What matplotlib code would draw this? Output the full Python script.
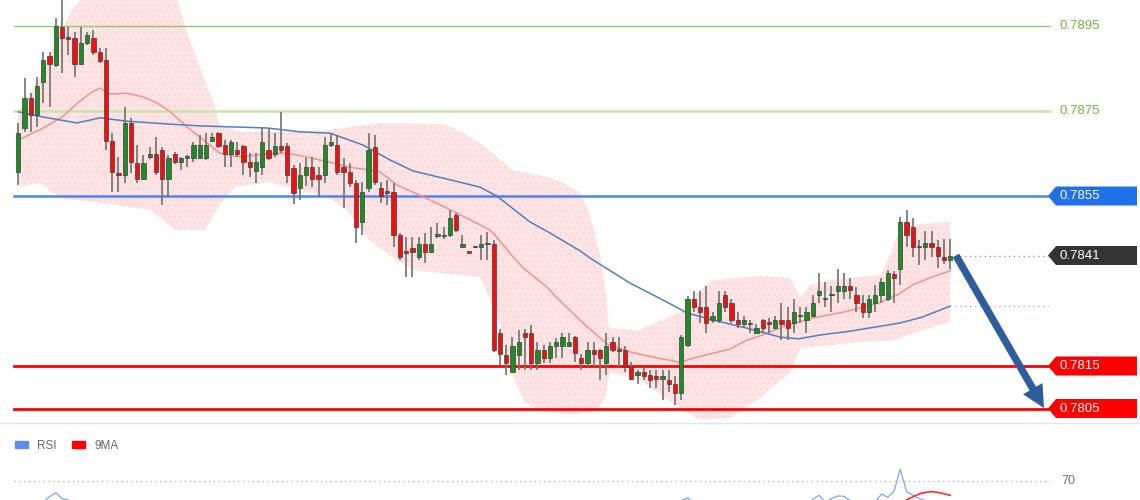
import numpy as np
import matplotlib
matplotlib.use('Agg')
import matplotlib.pyplot as plt
from matplotlib.patches import Polygon, Patch
from matplotlib.transforms import blended_transform_factory

plt.rcParams['font.family'] = ['Liberation Sans', 'DejaVu Sans']
plt.rcParams['hatch.linewidth'] = 0.5

# --- candles, oldest first ---
opens = [
    0.78606, 0.78710, 0.78781, 0.78741, 0.78818, 0.78879, 0.78858, 0.78948, 0.78922, 0.78922,
    0.78861, 0.78910, 0.78922, 0.78889, 0.78870, 0.78679, 0.78604, 0.78599, 0.78721, 0.78628,
    0.78590, 0.78641, 0.78649, 0.78658, 0.78590, 0.78649, 0.78630, 0.78640, 0.78639, 0.78639,
    0.78639, 0.78679, 0.78698, 0.78670, 0.78649, 0.78658, 0.78668, 0.78630, 0.78609, 0.78618,
    0.78658, 0.78649, 0.78668, 0.78668, 0.78616, 0.78569, 0.78599, 0.78618, 0.78599, 0.78599,
    0.78670, 0.78670, 0.78618, 0.78606, 0.78581, 0.78489, 0.78569, 0.78665, 0.78569, 0.78561,
    0.78559, 0.78458, 0.78421, 0.78428, 0.78406, 0.78437, 0.78418, 0.78457, 0.78455, 0.78458,
    0.78505, 0.78430, 0.78418, 0.78430, 0.78430, 0.78437, 0.78437, 0.78228, 0.78176, 0.78136,
    0.78176, 0.78228, 0.78228, 0.78157, 0.78188, 0.78169, 0.78197, 0.78197, 0.78197, 0.78218,
    0.78169, 0.78157, 0.78188, 0.78188, 0.78157, 0.78207, 0.78189, 0.78188, 0.78148, 0.78129,
    0.78136, 0.78129, 0.78127, 0.78119, 0.78117, 0.78108, 0.78086, 0.78200, 0.78308, 0.78289,
    0.78289, 0.78258, 0.78258, 0.78317, 0.78298, 0.78258, 0.78249, 0.78249, 0.78228, 0.78258,
    0.78251, 0.78239, 0.78258, 0.78258, 0.78251, 0.78268, 0.78258, 0.78268, 0.78317, 0.78308,
    0.78317, 0.78326, 0.78326, 0.78338, 0.78317, 0.78298, 0.78277, 0.78298, 0.78317, 0.78308,
    0.78366, 0.78378, 0.78489, 0.78477, 0.78430, 0.78430, 0.78439, 0.78430, 0.78406, 0.78399,
]
highs = [
    0.78722, 0.78828, 0.78792, 0.78830, 0.78889, 0.78889, 0.78969, 0.79011, 0.78948, 0.78936,
    0.78948, 0.78936, 0.78941, 0.78898, 0.78898, 0.78698, 0.78641, 0.78759, 0.78734, 0.78670,
    0.78646, 0.78665, 0.78689, 0.78665, 0.78646, 0.78653, 0.78641, 0.78646, 0.78677, 0.78694,
    0.78698, 0.78698, 0.78700, 0.78682, 0.78682, 0.78677, 0.78670, 0.78651, 0.78651, 0.78710,
    0.78710, 0.78698, 0.78748, 0.78675, 0.78623, 0.78628, 0.78639, 0.78641, 0.78618, 0.78689,
    0.78698, 0.78694, 0.78639, 0.78628, 0.78588, 0.78583, 0.78698, 0.78694, 0.78583, 0.78588,
    0.78581, 0.78463, 0.78454, 0.78454, 0.78454, 0.78463, 0.78477, 0.78486, 0.78477, 0.78517,
    0.78510, 0.78458, 0.78421, 0.78432, 0.78458, 0.78465, 0.78447, 0.78237, 0.78200, 0.78218,
    0.78235, 0.78237, 0.78246, 0.78207, 0.78200, 0.78207, 0.78216, 0.78228, 0.78228, 0.78220,
    0.78178, 0.78207, 0.78207, 0.78190, 0.78228, 0.78218, 0.78218, 0.78197, 0.78159, 0.78141,
    0.78148, 0.78141, 0.78141, 0.78141, 0.78141, 0.78127, 0.78223, 0.78315, 0.78326, 0.78326,
    0.78338, 0.78277, 0.78326, 0.78326, 0.78308, 0.78277, 0.78268, 0.78258, 0.78249, 0.78261,
    0.78263, 0.78268, 0.78298, 0.78289, 0.78308, 0.78289, 0.78289, 0.78317, 0.78369, 0.78348,
    0.78338, 0.78378, 0.78369, 0.78357, 0.78336, 0.78317, 0.78317, 0.78341, 0.78357, 0.78376,
    0.78374, 0.78501, 0.78517, 0.78498, 0.78447, 0.78468, 0.78468, 0.78447, 0.78449, 0.78449,
]
lows = [
    0.78576, 0.78700, 0.78700, 0.78712, 0.78769, 0.78759, 0.78854, 0.78839, 0.78882, 0.78830,
    0.78858, 0.78905, 0.78882, 0.78863, 0.78658, 0.78559, 0.78559, 0.78581, 0.78604, 0.78581,
    0.78588, 0.78637, 0.78599, 0.78529, 0.78548, 0.78625, 0.78611, 0.78618, 0.78630, 0.78637,
    0.78635, 0.78677, 0.78663, 0.78618, 0.78618, 0.78641, 0.78599, 0.78595, 0.78581, 0.78599,
    0.78635, 0.78641, 0.78651, 0.78581, 0.78531, 0.78541, 0.78574, 0.78571, 0.78548, 0.78581,
    0.78665, 0.78599, 0.78521, 0.78571, 0.78439, 0.78458, 0.78559, 0.78576, 0.78534, 0.78529,
    0.78430, 0.78399, 0.78359, 0.78359, 0.78399, 0.78392, 0.78416, 0.78451, 0.78449, 0.78454,
    0.78465, 0.78428, 0.78416, 0.78428, 0.78399, 0.78399, 0.78183, 0.78152, 0.78129, 0.78134,
    0.78141, 0.78141, 0.78141, 0.78141, 0.78157, 0.78157, 0.78169, 0.78169, 0.78195, 0.78159,
    0.78141, 0.78148, 0.78148, 0.78117, 0.78129, 0.78183, 0.78148, 0.78136, 0.78117, 0.78108,
    0.78117, 0.78098, 0.78098, 0.78070, 0.78089, 0.78058, 0.78070, 0.78195, 0.78277, 0.78251,
    0.78228, 0.78251, 0.78251, 0.78277, 0.78251, 0.78239, 0.78239, 0.78228, 0.78225, 0.78228,
    0.78228, 0.78237, 0.78211, 0.78211, 0.78228, 0.78251, 0.78228, 0.78265, 0.78298, 0.78289,
    0.78277, 0.78298, 0.78308, 0.78308, 0.78277, 0.78263, 0.78263, 0.78277, 0.78298, 0.78303,
    0.78298, 0.78341, 0.78430, 0.78406, 0.78388, 0.78399, 0.78406, 0.78381, 0.78390, 0.78378,
]
closes = [
    0.78698, 0.78781, 0.78741, 0.78809, 0.78870, 0.78861, 0.78950, 0.78922, 0.78920, 0.78861,
    0.78910, 0.78929, 0.78889, 0.78868, 0.78679, 0.78606, 0.78599, 0.78721, 0.78630, 0.78590,
    0.78628, 0.78649, 0.78606, 0.78590, 0.78639, 0.78630, 0.78639, 0.78643, 0.78670, 0.78670,
    0.78670, 0.78689, 0.78668, 0.78649, 0.78677, 0.78649, 0.78630, 0.78618, 0.78630, 0.78677,
    0.78639, 0.78668, 0.78658, 0.78599, 0.78557, 0.78599, 0.78618, 0.78590, 0.78590, 0.78670,
    0.78677, 0.78606, 0.78606, 0.78581, 0.78477, 0.78559, 0.78658, 0.78583, 0.78550, 0.78558,
    0.78458, 0.78406, 0.78416, 0.78418, 0.78437, 0.78418, 0.78437, 0.78459, 0.78457, 0.78498,
    0.78470, 0.78437, 0.78417, 0.78429, 0.78437, 0.78438, 0.78188, 0.78178, 0.78157, 0.78197,
    0.78207, 0.78218, 0.78157, 0.78188, 0.78169, 0.78197, 0.78207, 0.78218, 0.78207, 0.78181,
    0.78157, 0.78188, 0.78178, 0.78169, 0.78197, 0.78188, 0.78186, 0.78148, 0.78119, 0.78136,
    0.78127, 0.78117, 0.78119, 0.78127, 0.78108, 0.78086, 0.78218, 0.78308, 0.78289, 0.78277,
    0.78251, 0.78268, 0.78298, 0.78289, 0.78258, 0.78249, 0.78258, 0.78248, 0.78239, 0.78239,
    0.78250, 0.78258, 0.78249, 0.78239, 0.78277, 0.78269, 0.78277, 0.78298, 0.78326, 0.78309,
    0.78318, 0.78338, 0.78338, 0.78329, 0.78298, 0.78277, 0.78308, 0.78317, 0.78348, 0.78369,
    0.78357, 0.78489, 0.78458, 0.78430, 0.78431, 0.78439, 0.78430, 0.78409, 0.78399, 0.78410,
]

# --- moving averages (candle index, price) ---
red_ma_idx = [0, 4, 7, 9.5, 11.5, 13, 14.7, 17.4, 20, 22.2, 24.3, 27, 30.2, 32.2, 35.4, 39.8,
              43, 47, 53, 57.8, 60.5, 65.8, 70.1, 75.4, 76.2, 79, 80.7, 84.5, 86, 90.3, 94.1,
              97.8, 102.1, 105.8, 108.5, 113.8, 116.5, 119, 122.5, 127, 132, 137.5, 140.5,
              143, 146, 149]
red_ma = [0.78682, 0.78710, 0.78736, 0.78769, 0.78792, 0.78804, 0.78790, 0.78792, 0.78783,
          0.78769, 0.78748, 0.78712, 0.78675, 0.78651, 0.78642, 0.78649, 0.78651, 0.78639,
          0.78618, 0.78607, 0.78576, 0.78541, 0.78510, 0.78470, 0.78458, 0.78409, 0.78381,
          0.78336, 0.78312, 0.78251, 0.78202, 0.78183, 0.78169, 0.78159, 0.78171, 0.78190,
          0.78211, 0.78223, 0.78244, 0.78263, 0.78277, 0.78298, 0.78317, 0.78341, 0.78359,
          0.78374]
blue_ma_idx = [0, 3.9, 9.4, 13.1, 17.4, 24.3, 29.0, 39.8, 45.0, 49.8, 55.1, 59.4, 63.1, 68.5,
               73.8, 76.5, 81.8, 85.0, 89.8, 91.4, 97.8, 103.1, 106.9, 111.1, 116.5, 121.8,
               124.7, 128.2, 133.0, 140.9, 144.5, 149]
blue_ma = [0.78748, 0.78736, 0.78722, 0.78734, 0.78726, 0.78719, 0.78715, 0.78710, 0.78701,
           0.78698, 0.78670, 0.78635, 0.78609, 0.78590, 0.78571, 0.78550, 0.78489, 0.78463,
           0.78421, 0.78404, 0.78345, 0.78305, 0.78275, 0.78258, 0.78239, 0.78218, 0.78214,
           0.78223, 0.78232, 0.78251, 0.78265, 0.78291]

# --- bollinger envelope ---
band_up_idx = [0, 3.0, 6.7, 8.6, 9.9, 11.5, 24.3, 25.4, 27.0, 29.0, 31.1, 32.2, 35.4, 45.0,
               49.8, 57.8, 68.2, 71.1, 73.8, 79.1, 84.5, 87.1, 89.8, 91.4, 93.0, 94.0, 94.4,
               99.4, 105.8, 109.0, 111.1, 118.6, 123.4, 125.0, 126.6, 129.8, 137.8, 139.4,
               140.5, 142.5, 149.0]
band_up = [0.78748, 0.78816, 0.78934, 0.78988, 0.79011, 0.79047, 0.79047, 0.79011, 0.78934,
           0.78854, 0.78776, 0.78717, 0.78701, 0.78701, 0.78705, 0.78722, 0.78719, 0.78698,
           0.78675, 0.78611, 0.78595, 0.78581, 0.78557, 0.78505, 0.78411, 0.78317, 0.78239,
           0.78235, 0.78277, 0.78329, 0.78352, 0.78362, 0.78357, 0.78310, 0.78341, 0.78352,
           0.78364, 0.78411, 0.78458, 0.78482, 0.78489]
band_lo_idx = [0, 3.5, 6.7, 13.1, 21.1, 25.1, 29.8, 32.2, 34.6, 40.2, 45.0, 49.8, 52.5, 56.2,
               60.5, 63.1, 73.8, 76.9, 78.6, 81.0, 84.2, 88.2, 92.2, 93.8, 94.6, 99.4, 105.8,
               109.0, 113.8, 118.6, 123.4, 125.0, 133.0, 140.2, 141.8, 149.0]
band_lo = [0.78571, 0.78581, 0.78545, 0.78534, 0.78517, 0.78470, 0.78470, 0.78529, 0.78571,
           0.78583, 0.78564, 0.78545, 0.78517, 0.78446, 0.78399, 0.78376, 0.78359, 0.78258,
           0.78141, 0.78063, 0.78042, 0.78037, 0.78042, 0.78075, 0.78136, 0.78117, 0.78051,
           0.78023, 0.78028, 0.78075, 0.78136, 0.78192, 0.78204, 0.78211, 0.78221, 0.78254]

# --- levels ---
green_levels = [0.7895, 0.7875]
support_levels = [0.7815, 0.7805]
resistance_level = 0.7855
target_level = 0.7805

# --- RSI pane (only the parts that rise into view) ---
rsi_segments = [
    (4, [54, 58, 61, 56.5, 55.5, 52]),
    (105, [52, 55, 57, 53]),
    (126, [53, 56, 59, 54, 56.5, 58.5, 58.3, 55, 52]),
    (136, [53, 54, 60, 57.5, 62, 79, 62, 59, 56.5, 55, 53]),
]
ma9_start = 142
ma9_vals = [55.4, 57.8, 60, 61.3, 61.8, 61.3, 60.2, 59]

W, H = 1140, 500
fig = plt.figure(figsize=(W / 100, H / 100), dpi=100)
ax = fig.add_axes([0, 77 / H, 1, 423 / H])
rsi_ax = fig.add_axes([0, 0, 1, 77 / H])

idx = np.arange(len(closes))
o, hi, lo, c = map(np.array, (opens, highs, lows, closes))

ax.set_xlim(-2.93, 179.33)
ax.set_ylim(0.780159, 0.790112)
ax.axis('off')

# envelope
ax.fill(np.concatenate([band_up_idx, band_lo_idx[::-1]]),
        np.concatenate([band_up, band_lo[::-1]]),
        facecolor='#fde3e3', edgecolor='#f9d2d2', hatch='...', linewidth=0, zorder=1)

# levels
trans = blended_transform_factory(ax.transAxes, ax.transData)
x0, x1 = 14 / W, 1050 / W
ax.axhline(green_levels[0], x0, x1, color='#92cc62', lw=1.0, zorder=2)
ax.axhline(green_levels[1], x0, x1, color='#c6e4ae', lw=1.8, zorder=2)
ax.axhline(resistance_level, x0, x1, color='#4d86ef', lw=1.8, zorder=2)
for lvl in support_levels:
    ax.axhline(lvl, x0, x1, color='#ff0000', lw=2.0, zorder=2)

# moving averages
ax.plot(red_ma_idx, red_ma, color='#f29090', lw=1.1, zorder=2.5)
ax.plot(blue_ma_idx, blue_ma, color='#4f7fbf', lw=1.1, zorder=2.5)

# candles
ax.vlines(idx, lo, hi, color='#707070', lw=1.2, zorder=3)
up = c >= o
body = np.maximum(np.abs(c - o), 0.00003)
bottom = np.minimum(o, c)
ax.bar(idx[up], body[up], bottom=bottom[up], width=0.68, color='#1f8b24',
       edgecolor='#3c3c3c', lw=0.5, zorder=4)
ax.bar(idx[~up], body[~up], bottom=bottom[~up], width=0.68, color='#f40f0f',
       edgecolor='#3c3c3c', lw=0.5, zorder=4)

# dotted extensions of last close and slow average
ax.plot([955 / W, 1048 / W], [closes[-1]] * 2, transform=trans, color='#999999',
        lw=1.0, ls=(0, (1, 2.5)), zorder=2)
ax.plot([955 / W, 1048 / W], [blue_ma[-1]] * 2, transform=trans, color='#93b0e0',
        lw=1.0, ls=(0, (1, 2.5)), zorder=2)

# price badges
half = 9.5 / 42500
def badge(price, color):
    pts = [(1048 / W, price), (1056 / W, price + half), (1137 / W, price + half),
           (1137 / W, price - half), (1056 / W, price - half)]
    ax.add_patch(Polygon(pts, closed=True, transform=trans, facecolor=color,
                         edgecolor='none', zorder=5, clip_on=False))
    ax.text(1060 / W, price, f'{price:.4f}', transform=trans, color='white',
            fontsize=9.5, va='center', ha='left', zorder=6)

for lvl in green_levels:
    ax.text(1060 / W, lvl, f'{lvl:.4f}', transform=trans, color='#74b343',
            fontsize=9.5, va='center', ha='left')
badge(resistance_level, '#1f6fe8')
badge(round(closes[-1], 4), '#333333')
for lvl in support_levels:
    badge(lvl, '#ff0000')

# projected move
ax.annotate('', xy=(1044 / W, target_level + 0.00001), xycoords=trans,
            xytext=(idx[-1] + 0.9, closes[-1]), textcoords='data',
            arrowprops=dict(arrowstyle='simple,tail_width=0.28,head_width=0.85,head_length=0.85',
                            facecolor='#2d5e9b', edgecolor='none', mutation_scale=19,
                            shrinkA=0, shrinkB=0), zorder=6)

# --- RSI pane ---
rsi_ax.set_xlim(-2.93, 179.33)
rsi_ax.set_ylim(55.4, 114.6)
rsi_ax.set_xticks([])
rsi_ax.set_yticks([])
for side in ('left', 'right', 'bottom'):
    rsi_ax.spines[side].set_visible(False)
rsi_ax.spines['top'].set_color('#e4e4e4')
rsi_ax.spines['top'].set_linewidth(1.0)

rtrans = blended_transform_factory(rsi_ax.transAxes, rsi_ax.transData)
rsi_ax.axhline(70, x0, x1, color='#b8b8b8', lw=1.0, ls=(0, (1, 2.5)))
rsi_ax.text(1061 / W, 70, '70', transform=rtrans, fontsize=9, color='#6f6f6f', va='center')
for start, vals in rsi_segments:
    rsi_ax.plot(np.arange(start, start + len(vals)), vals, color='#7ea5ee', lw=0.9)
rsi_ax.plot(np.arange(ma9_start, ma9_start + len(ma9_vals)), ma9_vals, color='#ff2b2b', lw=1.2)

rsi_ax.legend(handles=[Patch(color='#5d8eec'), Patch(color='#ff0000')], labels=['RSI', '9MA'],
              loc='upper left', bbox_to_anchor=(0.008, 0.86), ncol=2, frameon=False,
              fontsize=8.5, handlelength=1.1, handleheight=0.5, handletextpad=0.8,
              columnspacing=1.3, borderpad=0, labelcolor='#666666')

fig.savefig('out.png', dpi=100, facecolor='white')
